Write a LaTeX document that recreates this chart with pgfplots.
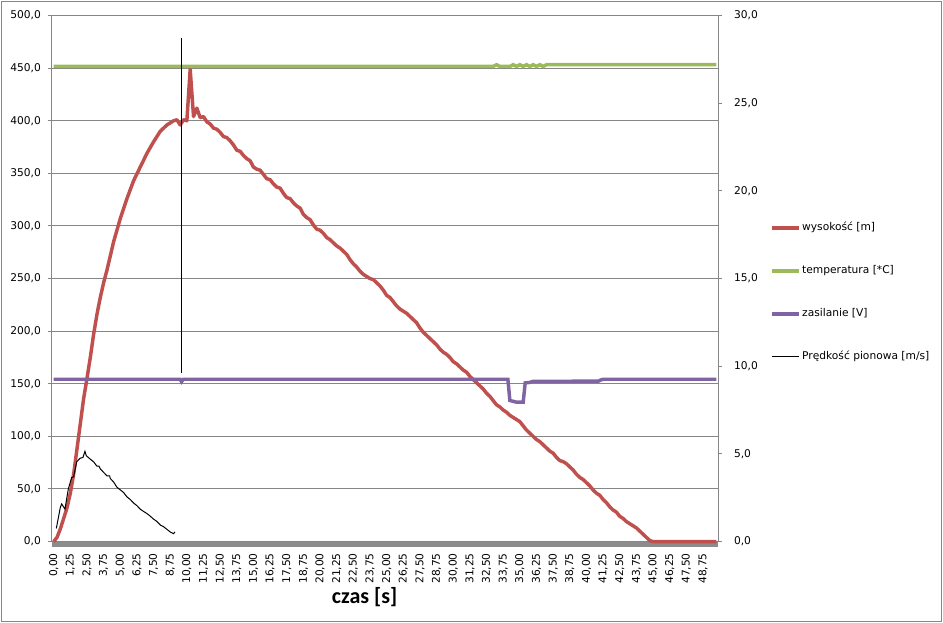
\documentclass[border=0pt]{standalone}
\usepackage{pgfplots}
\pgfplotsset{compat=1.18}
\usepackage{pgfplotstable}
\usepackage{fontspec}
\setmainfont{DejaVu Sans}
\newfontfamily\carlito{Carlito}
\definecolor{exred}{HTML}{C0504D}
\definecolor{exgreen}{HTML}{9BBB59}
\definecolor{expurple}{HTML}{8064A2}
\definecolor{exgrid}{HTML}{868686}
\definecolor{exband}{HTML}{8C8C8C}

% wysokosc [m] (left axis)
\pgfplotstableread{
t v
0.00 0
0.25 4
0.50 12
0.75 22
1.00 32
1.25 46
1.50 64
1.75 88
2.00 112
2.25 136
2.50 155
2.75 175
3.00 197
3.25 216
3.50 232
3.75 246
4.00 258
4.50 285
5.00 307
5.50 326
6.00 343
6.50 356
7.00 369
7.50 380
8.00 390
8.50 396
9.00 400
9.25 401
9.50 396
9.75 401
10.00 400
10.25 449
10.50 404
10.75 412
11.00 403
11.25 404
11.50 399
11.75 397
12.00 393
12.25 392
12.50 389
12.75 385
13.00 384
13.25 381
13.50 377
13.75 372
14.00 371
14.25 367
14.50 364
14.75 362
15.00 356
15.25 354
15.50 353
15.75 349
16.00 345
16.25 344
16.50 340
16.75 337
17.00 336
17.25 331
17.50 327
17.75 326
18.00 322
18.25 319
18.50 317
18.75 311
19.00 308
19.25 306
19.50 301
19.75 297
20.00 296
20.25 293
20.50 289
20.75 287
21.00 284
21.25 281
21.50 279
21.75 276
22.00 273
22.25 268
22.50 264
22.75 261
23.00 257
23.25 254
23.50 252
23.75 250
24.00 249
24.25 246
24.50 243
24.75 239
25.00 234
25.25 232
25.50 228
25.75 224
26.00 221
26.25 219
26.50 217
26.75 214
27.00 211
27.25 208
27.50 203
27.75 199
28.00 196
28.25 193
28.50 190
28.75 187
29.00 183
29.25 180
29.50 178
29.75 175
30.00 171
30.25 169
30.50 166
30.75 163
31.00 161
31.25 157
31.50 154
31.75 151
32.00 148
32.25 145
32.50 141
32.75 138
33.00 134
33.25 130
33.50 128
33.75 125
34.00 123
34.25 120
34.50 118
34.75 116
35.00 114
35.25 110
35.50 106
35.75 103
36.00 100
36.25 97
36.50 95
36.75 92
37.00 89
37.25 86
37.50 84
37.75 80
38.00 77
38.25 76
38.50 74
38.75 71
39.00 68
39.25 64
39.50 61
39.75 59
40.00 56
40.25 53
40.50 49
40.75 46
41.00 44
41.25 40
41.50 37
41.75 33
42.00 30
42.25 28
42.50 24
42.75 22
43.00 19
43.25 17
43.50 15
43.75 13
44.00 10
44.25 7
44.50 4
44.75 1
45.00 0
49.75 0
}\hdata

% temperatura [*C] (right axis)
\pgfplotstableread{
t v
0.00 27.1
33.00 27.1
33.25 27.2
33.50 27.1
34.25 27.1
34.50 27.2
34.75 27.1
35.00 27.2
35.25 27.1
35.50 27.2
35.75 27.1
36.00 27.2
36.25 27.1
36.50 27.2
36.75 27.1
37.00 27.2
49.75 27.2
}\tdata

% zasilanie [V] (right axis)
\pgfplotstableread{
t v
0.00 9.26
9.50 9.26
9.60 9.12
9.75 9.26
34.10 9.26
34.25 8.05
34.50 8.00
34.75 7.95
35.25 7.95
35.40 9.05
35.75 9.08
36.00 9.14
40.90 9.15
41.10 9.23
41.30 9.26
49.75 9.26
}\zdata

% Predkosc pionowa [m/s] (right axis)
\pgfplotstableread{
t v
0.20 0.75
0.50 1.95
0.60 2.15
0.85 1.85
1.10 3.00
1.35 3.65
1.50 3.70
1.73 4.55
1.98 4.75
2.20 4.80
2.35 5.15
2.45 4.90
2.60 4.80
2.75 4.70
3.00 4.55
3.25 4.30
3.40 4.30
3.50 4.15
3.75 3.95
4.00 3.75
4.20 3.75
4.25 3.60
4.50 3.40
4.75 3.10
5.00 2.95
5.25 2.80
5.50 2.55
5.75 2.40
6.00 2.20
6.25 2.05
6.50 1.85
6.75 1.72
7.00 1.60
7.25 1.45
7.50 1.28
7.75 1.15
8.00 0.95
8.25 0.85
8.50 0.70
8.75 0.55
9.00 0.45
9.10 0.55
}\pdata

% pionowa kreska
\pgfplotstableread{
t v
9.60 28.74
9.60 9.62
}\kdata

\pgfplotsset{
  common/.style={
    at={(39pt,61.05pt)}, anchor=south west,
    scale only axis, width=499.5pt, height=394.5pt,
    xmin=-0.125, xmax=49.875,
    font=\fontsize{8}{9.6}\selectfont,
    /pgf/number format/assume math mode=true,
    tick align=outside,
    major tick length=3pt,
    tick style={exgrid, line width=0.75pt},
    clip=false,
  },
}

\begin{document}
\begin{tikzpicture}
\useasboundingbox (0,0) rectangle (707.25pt,467.25pt);
\draw[exgrid, line width=0.75pt] (1.1pt,1.1pt) rectangle (706.1pt,466.1pt);

\begin{axis}[common,
  axis y line*=left,
  axis x line*=bottom,
  x axis line style={draw=none},
  y axis line style={exgrid, line width=0.75pt},
  ymin=0, ymax=500,
  ytick={0,50,...,500},
  ymajorgrids,
  grid style={exgrid, line width=0.75pt},
  yticklabel style={xshift=-1.8pt, /pgf/number format/.cd, fixed, fixed zerofill, precision=1, use comma, 1000 sep={}},
  xtick={0,1.25,...,48.75},
  xtick style={draw=none},
  xticklabel style={yshift=-2.2pt, rotate=90, anchor=east, /pgf/number format/.cd, fixed, fixed zerofill, precision=2, use comma},
]
\addplot[forget plot, exband, line width=3.75pt, yshift=-1.9pt] coordinates {(-0.125,0) (49.875,0)};
\addplot[exred, line width=2.6pt, line join=round] table[x=t, y=v] {\hdata};
\end{axis}

\begin{axis}[common,
  axis y line*=right,
  axis x line=none,
  y axis line style={exgrid, line width=0.75pt},
  ymin=0, ymax=30,
  ytick={0,5,...,30},
  yticklabel style={xshift=5.5pt, /pgf/number format/.cd, fixed, fixed zerofill, precision=1, use comma},
  legend style={at={(1.0715,0.614)}, anchor=north west, draw=none, fill=none,
    font=\fontsize{8}{9.6}\selectfont, row sep=22.1pt, column sep=0pt,
    nodes={inner sep=1pt, text height=6pt, text depth=2pt}},
  legend cell align=left,
  legend image code/.code={\draw[#1] (0pt,0pt) -- (20.6pt,0pt);},
]
\addlegendimage{exred, line width=2.6pt}
\addlegendentry{wysokość [m]}
\addplot[exgreen, line width=2.6pt] table[x=t, y=v] {\tdata};
\addlegendentry{temperatura [*C]}
\addplot[expurple, line width=2.6pt] table[x=t, y=v] {\zdata};
\addlegendentry{zasilanie [V]}
\addplot[black, line width=0.75pt] table[x=t, y=v] {\pdata};
\addlegendentry{Prędkość pionowa [m/s]}
\addplot[forget plot, black, line width=0.75pt] table[x=t, y=v] {\kdata};
\end{axis}

\node[anchor=base, font=\carlito\bfseries\fontsize{16.5}{18}\selectfont] at (273.4pt,14.6pt) {czas [s]};
\end{tikzpicture}
\end{document}
